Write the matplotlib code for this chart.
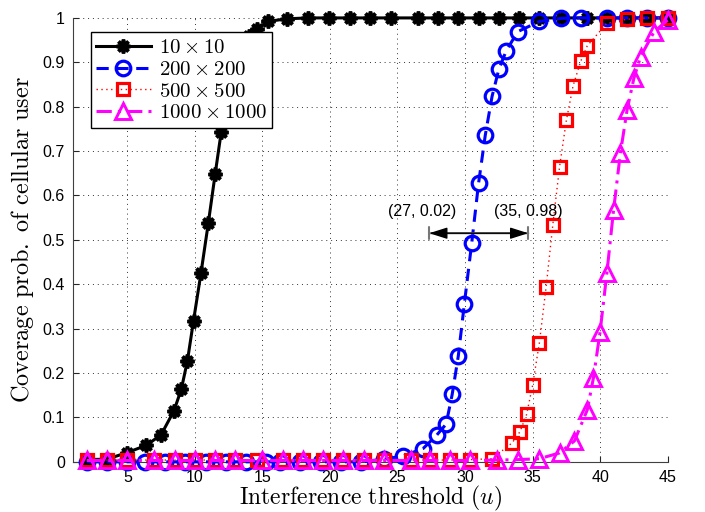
import matplotlib
matplotlib.use("Agg")
import matplotlib.pyplot as plt

plt.rcParams['mathtext.fontset'] = 'cm'

# ---- data ----
x_10 = [2, 3.5, 5, 6.4, 7.5, 8.45, 9.0, 9.45, 9.9, 10.45, 11.0, 11.5, 11.95, 12.5,
        13.0, 13.5, 14.0, 14.6, 15.4, 16.8, 18.4, 19.9, 21.5, 23.0, 24.5, 26.5, 28.0,
        29.5, 31.0, 32.5, 34.0, 35.5, 37.2, 39.0, 40.5, 42.0, 43.5, 45.0]
y_10 = [0.005, 0.006, 0.021, 0.037, 0.061, 0.115, 0.164, 0.228, 0.318, 0.425, 0.539,
        0.648, 0.743, 0.83, 0.89, 0.93, 0.96, 0.975, 0.992, 0.998, 1.0, 1.0, 1.0, 1.0,
        1.0, 1.0, 1.0, 1.0, 1.0, 1.0, 1.0, 1.0, 1.0, 1.0, 1.0, 1.0, 1.0, 1.0]

x_200 = [2, 3.5, 5, 6.3, 7.8, 9.3, 10.8, 12.3, 13.8, 15.3, 16.3, 17.8, 19.3, 20.8,
         22.3, 24.0, 25.4, 26.9, 27.9, 28.6, 29.05, 29.5, 29.95, 30.5, 31.0, 31.5,
         32.0, 32.5, 33.05, 33.9, 35.5, 37.1, 38.6, 40.5, 42.0, 43.5, 45.0]
y_200 = [0, 0, 0, 0, 0, 0, 0, 0, 0, 0, 0, 0, 0, 0, 0, 0.006, 0.013, 0.03, 0.06,
         0.085, 0.152, 0.238, 0.356, 0.494, 0.627, 0.736, 0.823, 0.884, 0.926, 0.969,
         0.992, 0.999, 1.0, 1.0, 1.0, 1.0, 1.0]

x_500 = [2, 3.5, 5, 7, 8.5, 10, 11.5, 13, 14.6, 16.5, 18, 19.5, 21, 22.5, 24, 26,
         27.4, 28.9, 30.4, 32.0, 33.5, 34.07, 34.56, 35.0, 35.5, 36.0, 36.5, 37.0,
         37.5, 38.0, 38.56, 39.05, 40.5, 42.0, 43.5, 45.0]
y_500 = [0.004, 0.004, 0.004, 0.004, 0.004, 0.004, 0.004, 0.004, 0.004, 0.004,
         0.004, 0.004, 0.004, 0.004, 0.004, 0.004, 0.004, 0.004, 0.005, 0.007,
         0.043, 0.068, 0.107, 0.172, 0.267, 0.393, 0.534, 0.665, 0.769, 0.847,
         0.902, 0.937, 0.988, 0.997, 1.0, 1.0]

x_1000 = [2, 3.5, 5, 7, 8.5, 10, 11.5, 13, 15, 16.5, 18, 19.5, 21, 22.5, 24, 26,
          27.4, 28.9, 30.4, 32.4, 33.9, 35.5, 37.0, 38.1, 39.05, 39.5, 40.0, 40.5,
          41.0, 41.5, 42.0, 42.5, 43.0, 44.0, 45.0]
y_1000 = [0.003, 0.003, 0.003, 0.003, 0.003, 0.003, 0.003, 0.003, 0.003, 0.003,
          0.003, 0.003, 0.003, 0.003, 0.003, 0.003, 0.003, 0.003, 0.003, 0.004,
          0.005, 0.007, 0.02, 0.047, 0.117, 0.188, 0.293, 0.425, 0.568, 0.695,
          0.793, 0.864, 0.913, 0.969, 0.995]

labels = [r'$10 \times 10$', r'$200 \times 200$', r'$500 \times 500$', r'$1000 \times 1000$']
x_ticks = [5, 10, 15, 20, 25, 30, 35, 40, 45]
y_ticks = [0, 0.1, 0.2, 0.3, 0.4, 0.5, 0.6, 0.7, 0.8, 0.9, 1]
y_ticklabels = ['0', '0.1', '0.2', '0.3', '0.4', '0.5', '0.6', '0.7', '0.8', '0.9', '1']

arrow_x = [27.35, 34.68]
arrow_y = 0.515
annot_texts = ['(27, 0.02)', '(35, 0.98)']
annot_x = [26.8, 34.7]
annot_y = 0.565

# ---- figure ----
fig = plt.figure(figsize=(7.05, 5.12), dpi=100)
ax = fig.add_axes([0.104, 0.098, 0.843, 0.867])

ax.plot(x_10, y_10, color='black', linestyle='-', linewidth=2.2,
        marker=(8, 2, 0), markersize=10, markeredgewidth=2.6, clip_on=False,
        label=labels[0], zorder=3)
ax.plot(x_200, y_200, color='#0000ff', linestyle=(0, (4, 2.5)), linewidth=2.2,
        marker='o', markersize=10.5, markeredgewidth=2.3, markerfacecolor='none',
        clip_on=False, label=labels[1], zorder=4)
ax.plot(x_500, y_500, color='#ff0000', linestyle=(0, (1, 2.5)), linewidth=1.0,
        marker='s', markersize=8, markeredgewidth=2.3, markerfacecolor='none',
        clip_on=False, label=labels[2], zorder=5)
ax.plot(x_1000, y_1000, color='#ff00ff', linestyle=(0, (5, 2, 1, 2)), linewidth=2.2,
        marker='^', markersize=11, markeredgewidth=2.1, markerfacecolor='none',
        clip_on=False, label=labels[3], zorder=6)

ax.set_xlim(1, 45)
ax.set_ylim(0, 1)
ax.set_xticks(x_ticks)
ax.set_yticks(y_ticks)
ax.set_yticklabels(y_ticklabels)
ax.tick_params(direction='in', length=4, labelsize=11.5, colors='#262626',
               labelcolor='black', pad=6)
for lab in ax.get_xticklabels() + ax.get_yticklabels():
    lab.set_family('Liberation Sans')

ax.grid(True, linestyle=(0, (1, 4)), color='#333333', linewidth=0.7)
ax.spines['top'].set_visible(False)
ax.spines['right'].set_visible(False)
ax.spines['left'].set_color('#404040')
ax.spines['bottom'].set_color('#404040')

ax.set_xlabel(r'$\mathrm{Interference\ threshold\ (}u\mathrm{)}$', fontsize=17, labelpad=-1)
ax.set_ylabel(r'$\mathrm{Coverage\ prob.\ of\ cellular\ user}$', fontsize=17.5, labelpad=5)

leg = ax.legend(loc='upper left', bbox_to_anchor=(0.03, 0.968), borderaxespad=0,
                fontsize=15, frameon=True, fancybox=False, handlelength=2.6,
                handletextpad=0.4, labelspacing=0.08, borderpad=0.25,
                framealpha=1.0)
leg.get_frame().set_edgecolor('black')
leg.get_frame().set_linewidth(1.0)
leg.set_zorder(10)

# annotation: double arrow with end bars
ax.annotate('', xy=(arrow_x[0], arrow_y), xytext=(arrow_x[1], arrow_y),
            arrowprops=dict(arrowstyle='|-|,widthA=0.45,widthB=0.45', color='#777777',
                            linewidth=1.5, shrinkA=0, shrinkB=0), zorder=7)
ax.annotate('', xy=(arrow_x[0], arrow_y), xytext=(arrow_x[1], arrow_y),
            arrowprops=dict(arrowstyle='<|-|>,head_length=1.1,head_width=0.35',
                            color='black', linewidth=1.0, shrinkA=0, shrinkB=0), zorder=8)
for t, xx in zip(annot_texts, annot_x):
    ax.text(xx, annot_y, t, ha='center', va='center', fontsize=11.5,
            family='Liberation Sans', zorder=8)

fig.savefig('out.png', dpi=100)
